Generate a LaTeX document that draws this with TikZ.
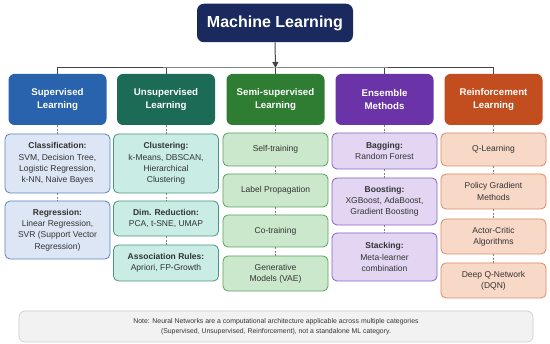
\documentclass[tikz,border=0pt]{standalone}
\usepackage{fontspec}
\setmainfont{Liberation Sans}
\usetikzlibrary{arrows.meta}
\definecolor{navy}{HTML}{1B2A5E}
\definecolor{supc}{HTML}{2962AD}\definecolor{supf}{HTML}{DCE6F5}\definecolor{supd}{HTML}{5A84BE}
\definecolor{unsc}{HTML}{1C6B57}\definecolor{unsf}{HTML}{C9EDE4}\definecolor{unsd}{HTML}{4A9482}
\definecolor{semc}{HTML}{2E7D32}\definecolor{semf}{HTML}{CBE8CC}\definecolor{semd}{HTML}{5AA25E}
\definecolor{ensc}{HTML}{6A33A8}\definecolor{ensf}{HTML}{E2D6F3}\definecolor{ensd}{HTML}{8763C4}
\definecolor{reic}{HTML}{C24D1E}\definecolor{reif}{HTML}{F8D8C6}\definecolor{reid}{HTML}{D98B64}
\definecolor{txt}{HTML}{333333}
\definecolor{linec}{HTML}{444444}
\begin{document}
\begin{tikzpicture}[x=1pt,y=-1pt,
  title/.style={rounded corners=7pt,fill=navy,text=white,font=\fontsize{16}{19}\selectfont\bfseries,minimum width=156pt,minimum height=38.5pt,inner sep=0pt},
  cat/.style={rounded corners=6pt,text=white,font=\fontsize{9.7}{12.7}\selectfont\bfseries,minimum width=98pt,minimum height=51pt,align=center,inner sep=0pt},
  sub/.style={rounded corners=5pt,line width=0.8pt,text=txt,font=\fontsize{8.5}{11.3}\selectfont,minimum width=105pt,align=center,inner sep=0pt},
  conn/.style={draw=linec,line width=1pt},
  dconn/.style={draw=gray,line width=0.6pt,dash pattern=on 2pt off 1.5pt},
]
\useasboundingbox (0,0) rectangle (550,344);
\fill[white] (0,0) rectangle (550,344);

\node[title] (ml) at (275,23) {Machine Learning};
\coordinate (jn) at (275.5,68);

\node[cat,fill=supc] (c1) at (57.5,99.5) {Supervised\\Learning};
\node[cat,fill=unsc] (c2) at (166,99.5) {Unsupervised\\Learning};
\node[cat,fill=semc] (c3) at (275.5,99.5) {Semi-supervised\\Learning};
\node[cat,fill=ensc] (c4) at (384.5,99.5) {Ensemble\\Methods};
\node[cat,fill=reic] (c5) at (493.5,99.5) {Reinforcement\\Learning};

\draw[conn,-{Triangle[length=6pt,width=6pt]}] (ml.south) -- (jn);
\draw[conn] (c1.north) |- (jn) -| (c5.north);
\draw[conn] (c2.north) -- (c2.north |- jn);
\draw[conn] (c3.north) -- (c3.north |- jn);
\draw[conn] (c4.north) -- (c4.north |- jn);

% column 1
\node[sub,fill=supf,draw=supd,minimum height=59pt] (s1) at (57.5,163.5) {\textbf{Classification:}\\SVM, Decision Tree,\\Logistic Regression,\\k-NN, Naive Bayes};
\node[sub,fill=supf,draw=supd,minimum height=58pt] (s2) at (57.5,230) {\textbf{Regression:}\\Linear Regression,\\SVR (Support Vector\\Regression)};
% column 2
\node[sub,fill=unsf,draw=unsd,minimum height=59pt] (u1) at (166,163.5) {\textbf{Clustering:}\\k-Means, DBSCAN,\\Hierarchical\\Clustering};
\node[sub,fill=unsf,draw=unsd,minimum height=35pt] (u2) at (166,218.5) {\textbf{Dim. Reduction:}\\PCA, t-SNE, UMAP};
\node[sub,fill=unsf,draw=unsd,minimum height=36pt] (u3) at (166,263) {\textbf{Association Rules:}\\Apriori, FP-Growth};
% column 3
\node[sub,fill=semf,draw=semd,minimum height=33pt] (m1) at (275.5,149.5) {Self-training};
\node[sub,fill=semf,draw=semd,minimum height=33pt] (m2) at (275.5,190.5) {Label Propagation};
\node[sub,fill=semf,draw=semd,minimum height=32pt] (m3) at (275.5,231) {Co-training};
\node[sub,fill=semf,draw=semd,minimum height=35pt] (m4) at (275.5,273.5) {Generative\\Models (VAE)};
% column 4
\node[sub,fill=ensf,draw=ensd,minimum height=36pt] (e1) at (384.5,151) {\textbf{Bagging:}\\Random Forest};
\node[sub,fill=ensf,draw=ensd,minimum height=47pt] (e2) at (384.5,201.5) {\textbf{Boosting:}\\XGBoost, AdaBoost,\\Gradient Boosting};
\node[sub,fill=ensf,draw=ensd,minimum height=48pt] (e3) at (384.5,257) {\textbf{Stacking:}\\Meta-learner\\combination};
% column 5
\node[sub,fill=reif,draw=reid,minimum height=33pt] (r1) at (493.5,149.5) {Q-Learning};
\node[sub,fill=reif,draw=reid,minimum height=35pt] (r2) at (493.5,191.5) {Policy Gradient\\Methods};
\node[sub,fill=reif,draw=reid,minimum height=35pt] (r3) at (493.5,236.5) {Actor-Critic\\Algorithms};
\node[sub,fill=reif,draw=reid,minimum height=35pt] (r4) at (493.5,280.5) {Deep Q-Network\\(DQN)};

\draw[dconn] (c1) -- (s1); \draw[dconn] (s1) -- (s2);
\draw[dconn] (c2) -- (u1); \draw[dconn] (u1) -- (u2); \draw[dconn] (u2) -- (u3);
\draw[dconn] (c3) -- (m1); \draw[dconn] (m1) -- (m2); \draw[dconn] (m2) -- (m3); \draw[dconn] (m3) -- (m4);
\draw[dconn] (c4) -- (e1); \draw[dconn] (e1) -- (e2); \draw[dconn] (e2) -- (e3);
\draw[dconn] (c5) -- (r1); \draw[dconn] (r1) -- (r2); \draw[dconn] (r2) -- (r3); \draw[dconn] (r3) -- (r4);

\node[rounded corners=6pt,fill=black!5,draw=black!20,line width=0.6pt,minimum width=514pt,minimum height=31pt,align=center,text=txt,font=\fontsize{6.9}{10}\selectfont,inner sep=0pt] (note) at (276,326.5) {Note: Neural Networks are a computational architecture applicable across multiple categories\\(Supervised, Unsupervised, Reinforcement), not a standalone ML category.};
\end{tikzpicture}
\end{document}
